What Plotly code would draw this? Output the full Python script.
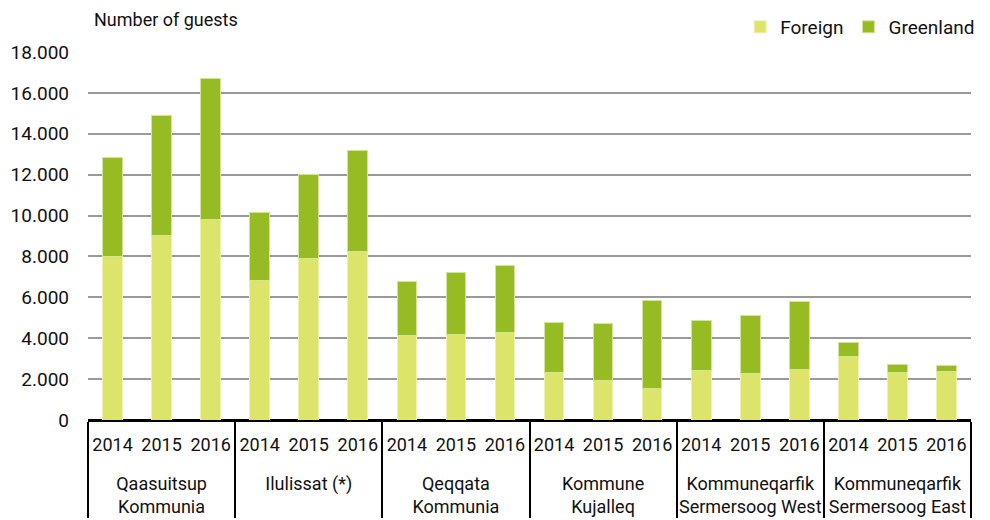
import plotly.graph_objects as go

regions = ["Qaasuitsup<br>Kommunia", "Ilulissat (*)", "Qeqqata<br>Kommunia",
           "Kommune<br>Kujalleq", "Kommuneqarfik<br>Sermersoog West", "Kommuneqarfik<br>Sermersoog East"]
years = ["2014", "2015", "2016"]

foreign = [8000, 9040, 9830,
           6800, 7900, 8250,
           4140, 4190, 4270,
           2330, 1940, 1530,
           2430, 2280, 2480,
           3110, 2330, 2360]
total = [12850, 14910, 16680,
         10160, 12020, 13160,
         6770, 7220, 7570,
         4750, 4720, 5860,
         4860, 5120, 5780,
         3770, 2720, 2690]
greenland = [t - f for t, f in zip(total, foreign)]

x_region = ["<br>" + r for r in regions for _ in years]
x_year = [y for _ in regions for y in years]

FONT = "Roboto, sans-serif"

fig = go.Figure()
fig.add_trace(go.Bar(x=[x_region, x_year], y=foreign, name="Foreign",
                     marker=dict(color="#dce46a", line=dict(color="#eef2b0", width=1))))
fig.add_trace(go.Bar(x=[x_region, x_year], y=greenland, name="Greenland",
                     marker=dict(color="#97bb22", line=dict(color="#d4e49a", width=1))))

fig.update_layout(
    barmode="stack",
    bargap=0.6,
    width=990, height=520,
    margin=dict(l=80, r=27, t=44, b=108, autoexpand=False),
    plot_bgcolor="white", paper_bgcolor="white",
    font=dict(family=FONT, size=18, color="#111"),
    separators=",.",
    legend=dict(orientation="h", x=0.982, xanchor="right", xref="container",
                y=1.0, yref="container", yanchor="top",
                font=dict(size=19), traceorder="normal", itemwidth=30),
    yaxis=dict(range=[0, 18000], tickvals=list(range(0, 18001, 2000)), tickformat=",d",
               showgrid=True, gridcolor="#9a9a9a", gridwidth=2,
               zeroline=True, zerolinecolor="black", zerolinewidth=2,
               ticks="", ticklen=0, showline=False, tickfont=dict(size=19),
               automargin=False, ticklabelstandoff=18),
    xaxis=dict(type="multicategory", showline=True, linecolor="black", linewidth=2,
               showdividers=True, dividercolor="black", dividerwidth=2,
               tickfont=dict(size=18), ticks="", tickangle=0, automargin=False,
               ticklabelstandoff=7),
)
fig.layout.annotations = [dict(text="Number of guests", x=0.0, xref="paper", xanchor="left",
                               xshift=4, y=1.0, yref="paper", yanchor="bottom", yshift=20,
                               showarrow=False, font=dict(size=18))]

fig.write_html("out.html")
